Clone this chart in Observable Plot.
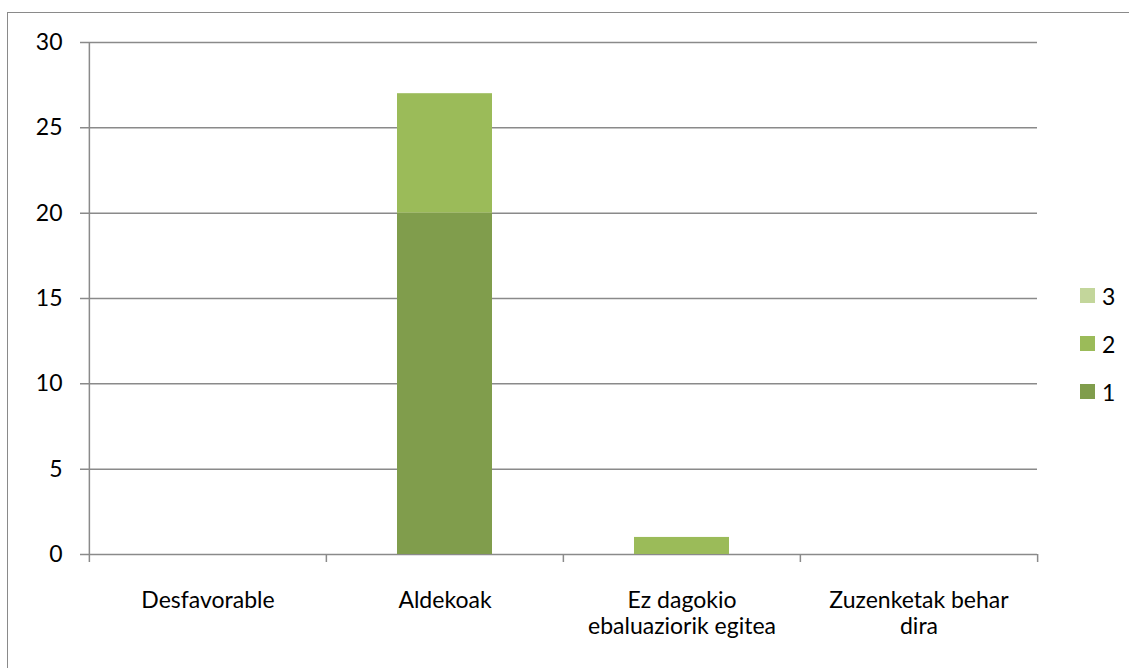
<!DOCTYPE html>
<html>
<head>
<meta charset="utf-8">
<script src="https://cdn.jsdelivr.net/npm/d3@7"></script>
<script src="https://cdn.jsdelivr.net/npm/@observablehq/plot@0.6"></script>
<style>
  html, body { margin: 0; padding: 0; background: #fff; }
  body { width: 1129px; height: 668px; position: relative; overflow: hidden; font-family: Lato, "Noto Sans", sans-serif; }
  #frame { position: absolute; left: 7px; top: 12px; width: 2000px; height: 2000px; border-left: 1.5px solid #8a8a8a; border-top: 1.5px solid #8a8a8a; }
  #chart { position: absolute; left: 0; top: 0; }
  #legend { position: absolute; left: 1080px; top: 287px; font-size: 23px; color: #000; }
  .item { display: flex; align-items: center; height: 17px; margin-bottom: 31px; }
  .sw { width: 15px; height: 15px; margin-right: 7px; }
</style>
</head>
<body>
<div id="frame"></div>
<div id="chart"></div>
<div id="legend"></div>
<script>
const categories = ["Desfavorable", "Aldekoak", "Ez dagokio ebaluaziorik egitea", "Zuzenketak behar dira"];
const categoryLabels = ["Desfavorable", "Aldekoak", "Ez dagokio\nebaluaziorik egitea", "Zuzenketak behar\ndira"];
const seriesNames = ["1", "2", "3"];
const seriesColors = ["#809d4c", "#9bbb59", "#c3d69b"];
const series1 = [0, 20, 0, 0];
const series2 = [0, 7, 1, 0];
const series3 = [0, 0, 0, 0];
const yTicks = [0, 5, 10, 15, 20, 25, 30];

const seriesValues = [series1, series2, series3];
const data = [];
seriesNames.forEach((s, si) => {
  categories.forEach((c, ci) => data.push({category: c, series: s, value: seriesValues[si][ci]}));
});

const W = 1129, H = 668, mL = 88, mR = 92, mT = 42, mB = 114;
const step = (W - mL - mR) / categories.length;
const gridColor = "#8a8a8a";
const FS = 23;

const chart = Plot.plot({
  width: W, height: H,
  marginLeft: mL, marginRight: mR, marginTop: mT, marginBottom: mB,
  style: {fontFamily: "Lato, 'Noto Sans', sans-serif", fontSize: FS + "px", color: "#000", background: "transparent"},
  x: {domain: categories, paddingInner: 0.6, paddingOuter: 0.3, axis: null, label: null},
  y: {domain: [0, 30], axis: null, label: null},
  color: {domain: seriesNames, range: seriesColors},
  marks: [
    Plot.ruleY(yTicks, {y: d => d, stroke: gridColor, strokeWidth: 1.5, insetLeft: -8}),
    Plot.axisY({ticks: yTicks, tickSize: 0, tickPadding: 26, fontSize: FS, label: null, tickFormat: d => String(d)}),
    Plot.barY(data, {x: "category", y: "value", fill: d => d.series, order: seriesNames}),
    Plot.ruleX([categories[0]], {x: d => d, dx: -step / 2, y1: 0, y2: 30, stroke: gridColor, strokeWidth: 1.5}),
    Plot.ruleX(categories, {x: d => d, dx: -step / 2, y1: 0, y2: 0, insetTop: 8, stroke: gridColor, strokeWidth: 1.5}),
    Plot.ruleX([categories[categories.length - 1]], {x: d => d, dx: step / 2, y1: 0, y2: 0, insetTop: 8, stroke: gridColor, strokeWidth: 1.5}),
    Plot.text(categories, {x: d => d, y: 0, text: (d, i) => categoryLabels[i], dy: 35, lineAnchor: "top", lineHeight: 1.13, fontSize: FS, fill: "#000"})
  ]
});
document.getElementById("chart").appendChild(chart);

const legend = document.getElementById("legend");
[...seriesNames].reverse().forEach(s => {
  const item = document.createElement("div");
  item.className = "item";
  const sw = document.createElement("div");
  sw.className = "sw";
  sw.style.background = seriesColors[seriesNames.indexOf(s)];
  const lab = document.createElement("span");
  lab.textContent = s;
  item.appendChild(sw); item.appendChild(lab);
  legend.appendChild(item);
});
</script>
</body>
</html>
